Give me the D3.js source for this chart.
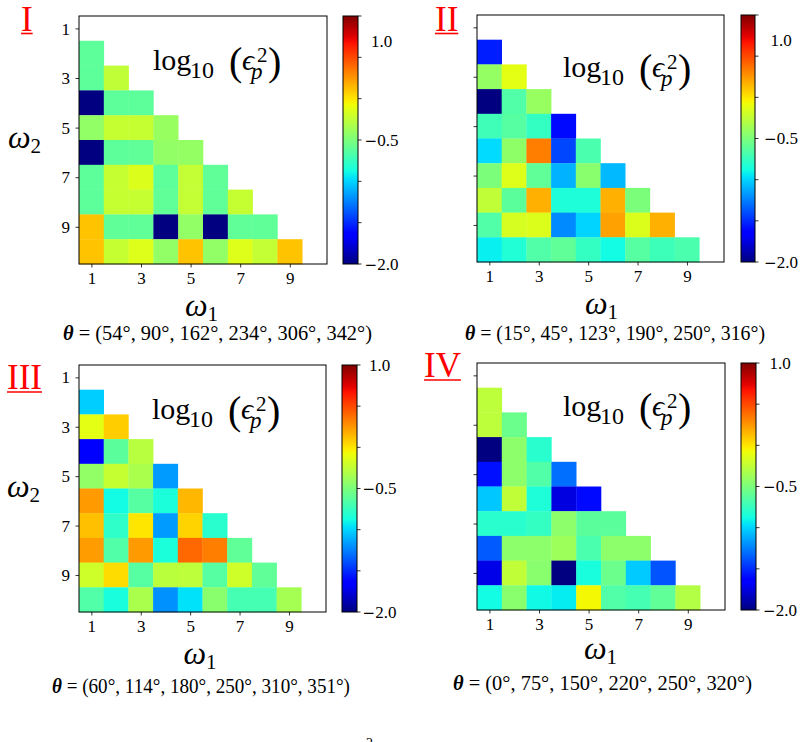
<!DOCTYPE html>
<html><head><meta charset="utf-8">
<script src="https://cdn.jsdelivr.net/npm/d3@7"></script>
<style>body{margin:0;background:#fff}</style>
</head><body>
<svg id="chart" width="807" height="742" xmlns="http://www.w3.org/2000/svg"></svg>
<script>
// ---------- data ----------
const omegaTicks = [1, 3, 5, 7, 9];
const panelNames = ["I", "II", "III", "IV"];
const thetaCaptions = [
  "(54°, 90°, 162°, 234°, 306°, 342°)",
  "(15°, 45°, 123°, 190°, 250°, 316°)",
  "(60°, 114°, 180°, 250°, 310°, 351°)",
  "(0°, 75°, 150°, 220°, 250°, 320°)"
];
const colorDomain = [-2.0, 1.0];
const colorbarTicks = [1.0, 0.5, 0.0, -0.5, -1.0, -1.5, -2.0];
const colorbarLabels = ["1.0", "\u22120.5", "\u22122.0"];
const colorbarLabelValues = [
  [0.7, -0.5, -2.0],
  [0.7, -0.5, -2.0],
  [1.0, -0.5, -2.0],
  [1.0, -0.5, -2.0]
];
// rows: omega2 = 2..10 ; entries: omega1 = 1..omega2-1 ; values are log10(eps_p^2)
const errI = [
  [-0.61],
  [-0.61, -0.25],
  [-2.0, -0.61, -0.61],
  [-0.42, -0.23, -0.23, -0.40],
  [-2.0, -0.61, -0.60, -0.42, -0.41],
  [-0.61, -0.23, -0.15, -0.61, -0.24, -0.60],
  [-0.61, -0.23, -0.23, -0.60, -0.24, -0.60, -0.23],
  [0.11, -0.60, -0.60, -2.0, -0.42, -2.0, -0.60, -0.60],
  [0.11, -0.23, -0.14, -0.42, 0.11, -0.42, -0.14, -0.24, 0.11]
];
const errII = [
  [-1.54],
  [-0.41, -0.12],
  [-2.0, -0.66, -0.40],
  [-0.72, -0.64, -0.76, -1.60],
  [-0.98, -0.43, 0.33, -1.42, -0.68],
  [-0.50, -0.14, -0.60, -1.10, -0.45, -1.08],
  [-0.25, -0.62, 0.17, -0.84, -0.84, 0.17, -0.50],
  [-0.66, -0.17, -0.15, -1.22, -1.00, 0.22, -0.15, 0.17],
  [-0.92, -0.83, -0.66, -0.60, -0.76, -0.88, -0.64, -0.73, -0.68]
];
const errIII = [
  [-1.02],
  [-0.12, 0.08],
  [-1.65, -0.62, -0.28],
  [-0.42, -0.23, -0.33, -1.17],
  [0.24, -0.88, -0.64, -0.85, 0.15],
  [0.12, -0.78, 0.00, -1.17, 0.06, -0.80],
  [0.23, -0.66, 0.24, -0.85, 0.40, 0.33, -0.60],
  [-0.20, 0.03, -0.64, -0.27, -0.26, -0.64, -0.20, -0.60],
  [-0.66, -0.86, -0.33, -1.20, -0.96, -0.45, -0.70, -0.70, -0.35]
];
const errIV = [
  [-0.26],
  [-0.26, -0.56],
  [-2.0, -0.44, -0.80],
  [-1.58, -0.44, -0.66, -1.30],
  [-1.04, -0.25, -0.84, -1.75, -1.60],
  [-0.80, -0.80, -0.76, -0.44, -0.62, -0.62],
  [-1.36, -0.44, -0.44, -0.38, -0.68, -0.44, -0.44],
  [-1.73, -0.25, -0.45, -2.0, -0.86, -0.56, -1.03, -1.38],
  [-0.88, -0.45, -0.89, -0.93, -0.06, -0.66, -0.70, -0.60, -0.30]
];
const panelData = [errI, errII, errIII, errIV];

// ---------- layout ----------
const layout = [
  {box: [79, 16, 248, 248], cbX: 343, cbW: 15, cbLab: 381.5, yLabels: true,
   title: [153, 70], name: [21, 31, 33.5], cap: [217.5, 340, 309], w1: [201.5, 316], w2: [8, 148]},
  {box: [477, 15, 247, 247], cbX: 741, cbW: 14, cbLab: 781, yLabels: false,
   title: [563, 77], name: [435, 31, 33.5], cap: [615, 340, 300], w1: [601.5, 314], w2: null},
  {box: [79, 365, 247, 247], cbX: 342, cbW: 15, cbLab: 379.5, yLabels: true,
   title: [152, 419], name: [7, 389, 392], cap: [201, 693, 298], w1: [200, 664], w2: [7, 497]},
  {box: [477, 363, 248, 247], cbX: 741, cbW: 15, cbLab: 780, yLabels: false,
   title: [563, 416], name: [424, 377, 380], cap: [602.5, 690, 299], w1: [600.5, 659], w2: null}
];

const FONT = "'Liberation Serif', 'DejaVu Serif', serif";

// ---------- jet colormap (matplotlib segment data) ----------
const jetR = d3.scaleLinear().domain([0, 0.35, 0.66, 0.89, 1]).range([0, 0, 1, 1, 0.5]).clamp(true);
const jetG = d3.scaleLinear().domain([0, 0.125, 0.375, 0.64, 0.91, 1]).range([0, 0, 1, 1, 0, 0]).clamp(true);
const jetB = d3.scaleLinear().domain([0, 0.11, 0.34, 0.65, 1]).range([0.5, 1, 1, 0, 0]).clamp(true);
function jet(t) {
  return d3.rgb(255 * jetR(t), 255 * jetG(t), 255 * jetB(t)).formatHex();
}
const color = d3.scaleSequential(jet).domain(colorDomain).clamp(true);

const svg = d3.select("#chart");
const defs = svg.append("defs");
const grad = defs.append("linearGradient").attr("id", "jetgrad")
  .attr("x1", 0).attr("y1", 1).attr("x2", 0).attr("y2", 0);
d3.range(0, 1.0001, 1 / 64).forEach(t => {
  grad.append("stop").attr("offset", t).attr("stop-color", jet(t));
});

layout.forEach((L, p) => {
  const [bx, by, bw, bh] = L.box;
  const x = d3.scaleLinear().domain([0.5, 10.5]).range([bx, bx + bw]);
  const y = d3.scaleLinear().domain([0.5, 10.5]).range([by, by + bh]);
  const g = svg.append("g");

  // cells
  const cells = [];
  panelData[p].forEach((row, i) => row.forEach((v, j) => cells.push({w1: j + 1, w2: i + 2, v})));
  g.selectAll("rect.cell").data(cells).join("rect")
    .attr("class", "cell")
    .attr("x", d => x(d.w1 - 0.5))
    .attr("y", d => y(d.w2 - 0.5))
    .attr("width", d => x(d.w1 + 0.5) - x(d.w1 - 0.5) + 0.3)
    .attr("height", d => y(d.w2 + 0.5) - y(d.w2 - 0.5) + 0.3)
    .attr("fill", d => color(d.v));

  // frame
  g.append("rect").attr("x", bx).attr("y", by).attr("width", bw).attr("height", bh)
    .attr("fill", "none").attr("stroke", "#000").attr("stroke-width", 1);

  // x axis
  const xa = g.append("g").attr("transform", `translate(0,${by + bh})`)
    .call(d3.axisBottom(x).tickValues(omegaTicks).tickSize(3.5).tickFormat(d3.format("d")));
  xa.select(".domain").remove();
  xa.selectAll("line").attr("stroke", "#000").attr("stroke-width", 0.8);
  xa.selectAll("text").attr("y", 19.5).attr("dy", 0)
    .attr("font-family", FONT).attr("font-size", 17).attr("fill", "#000");

  // y axis
  const ya = g.append("g").attr("transform", `translate(${bx},0)`)
    .call(d3.axisLeft(y).tickValues(omegaTicks).tickSize(3.5)
      .tickFormat(L.yLabels ? d3.format("d") : () => ""));
  ya.select(".domain").remove();
  ya.selectAll("line").attr("stroke", "#000").attr("stroke-width", 0.8);
  ya.selectAll("text").attr("x", -9).attr("dy", "0.33em")
    .attr("font-family", FONT).attr("font-size", 17).attr("fill", "#000");

  // colorbar
  const cy = d3.scaleLinear().domain(colorDomain).range([by + bh, by]);
  g.append("rect").attr("x", L.cbX).attr("y", by).attr("width", L.cbW).attr("height", bh)
    .attr("fill", "url(#jetgrad)").attr("stroke", "#000").attr("stroke-width", 1);
  g.selectAll("line.cbt").data(colorbarTicks).join("line").attr("class", "cbt")
    .attr("x1", L.cbX + L.cbW).attr("x2", L.cbX + L.cbW + 3.5)
    .attr("y1", d => cy(d)).attr("y2", d => cy(d))
    .attr("stroke", "#000").attr("stroke-width", 0.8);
  g.selectAll("text.cbl").data(colorbarLabels).join("text").attr("class", "cbl")
    .attr("x", L.cbLab).attr("y", (d, i) => cy(colorbarLabelValues[p][i]))
    .attr("dy", "0.35em").attr("text-anchor", "middle")
    .attr("font-family", FONT).attr("font-size", 17)
    .each(function (d) {
      const t = d3.select(this);
      if (d.startsWith("\u2212")) {
        t.append("tspan").attr("font-family", "'DejaVu Sans'").attr("font-size", 15).text("\u2212");
        t.append("tspan").text(d.slice(1));
      } else {
        t.text(d);
      }
    });

  // title log10(eps_p^2) as one text element
  const [tx, ty] = L.title;
  const tt = g.append("text").attr("font-family", FONT).attr("fill", "#000");
  tt.append("tspan").attr("x", tx).attr("y", ty).attr("font-size", 30).text("log");
  tt.append("tspan").attr("x", tx + 37).attr("y", ty + 8).attr("font-size", 24).text("10");
  tt.append("tspan").attr("x", tx + 76).attr("y", ty + 5).attr("font-size", 40).text("(");
  tt.append("tspan").attr("x", tx + 89).attr("y", ty).attr("font-size", 30).attr("font-style", "italic").text("\u03F5");
  tt.append("tspan").attr("x", tx + 104).attr("y", ty - 8).attr("font-size", 21).text("2");
  tt.append("tspan").attr("x", tx + 98).attr("y", ty + 9).attr("font-size", 23).attr("font-style", "italic").text("p");
  tt.append("tspan").attr("x", tx + 115).attr("y", ty + 5).attr("font-size", 40).text(")");

  // panel name (red, underlined)
  const [nx, nb, nu] = L.name;
  const nt = g.append("text").attr("x", nx).attr("y", nb).attr("font-family", FONT)
    .attr("font-size", 35).attr("fill", "#f00").text(panelNames[p]);
  const nw = nt.node().getComputedTextLength();
  g.append("line").attr("x1", nx).attr("x2", nx + nw).attr("y1", nu).attr("y2", nu)
    .attr("stroke", "#f00").attr("stroke-width", 1.6);

  // omega_1 label
  const [w1x, w1y] = L.w1;
  const w1 = g.append("text").attr("x", w1x).attr("y", w1y).attr("text-anchor", "middle")
    .attr("font-family", FONT).attr("fill", "#000");
  w1.append("tspan").attr("font-size", 32).attr("font-style", "italic").text("\u03C9");
  w1.append("tspan").attr("font-size", 21).attr("dy", 5).text("1");

  // omega_2 label
  if (L.w2) {
    const w2 = g.append("text").attr("x", L.w2[0]).attr("y", L.w2[1])
      .attr("font-family", FONT).attr("fill", "#000");
    w2.append("tspan").attr("font-size", 32).attr("font-style", "italic").text("\u03C9");
    w2.append("tspan").attr("font-size", 21).attr("dy", 5).text("2");
  }

  // theta caption
  const [cx, cyy, cw] = L.cap;
  const ct = g.append("text").attr("x", cx).attr("y", cyy).attr("text-anchor", "middle")
    .attr("font-family", FONT).attr("font-size", 20).attr("fill", "#000")
    .attr("textLength", cw).attr("lengthAdjust", "spacingAndGlyphs");
  ct.append("tspan").attr("font-weight", "bold").attr("font-style", "italic").text("\u03B8");
  ct.append("tspan").text(" = " + thetaCaptions[p]);
});

// cut-off superscript fragment from text below the figure
svg.append("text").attr("x", 366).attr("y", 748).attr("font-family", FONT)
  .attr("font-size", 14).attr("fill", "#000").text("2");
</script>
</body></html>
